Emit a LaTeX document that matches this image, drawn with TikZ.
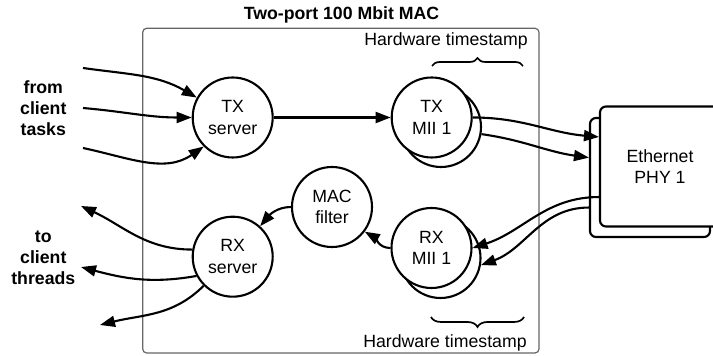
\documentclass[tikz,border=0pt]{standalone}
\usepackage{fontspec}
\setmainfont{Liberation Sans}
\usetikzlibrary{arrows.meta,decorations.pathreplacing,calc}

\begin{document}
\begin{tikzpicture}[x=1pt,y=1pt,
  every node/.style={font=\fontsize{17.7}{21.5}\selectfont},
  proc/.style={circle,draw,line width=2.1pt,fill=white,minimum size=80pt,inner sep=0pt,align=center},
  phybox/.style={rectangle,draw,line width=2.1pt,fill=white,rounded corners=6pt,
    minimum width=120pt,minimum height=120pt,inner sep=0pt,align=center},
  frame/.style={rectangle,draw=black!60,line width=1.2pt,rounded corners=4pt,inner sep=0pt},
  flow/.style={line width=2.1pt,-{Triangle[length=15pt,width=11pt]}},
  sidelbl/.style={align=center,font=\fontsize{17.7}{21}\selectfont\bfseries},
  brace/.style={line width=1.7pt,decorate,decoration={brace}},
]
\useasboundingbox (0,0) rectangle (713,356);
\clip (0,0) rectangle (713,356);

% enclosing MAC block and its title
\node[frame,minimum width=396.3pt,minimum height=324.7pt] (macblk) at (340.85,165.35) {};
\node[font=\fontsize{17.7}{21}\selectfont\bfseries] (title) at (341.5,341) {Two-port 100 Mbit MAC};

% hardware timestamp annotations
\node (hwtop) at (446,315) {Hardware timestamp};
\node (hwbot) at (445,13) {Hardware timestamp};
\coordinate (bt1) at (432,290);
\coordinate (bt2) at (523,290);
\coordinate (bb1) at (524,39);
\coordinate (bb2) at (431,39);
\draw[brace,decoration={amplitude=8pt}] (bt1) -- (bt2);
\draw[brace,decoration={amplitude=10pt}] (bb1) -- (bb2);

% PHY (stacked boxes)
\node[phybox,minimum height=119pt] (phyb) at (650,178.5) {};
\node[phybox] (phy) at (660,189.5) {Ethernet\\PHY 1};

% processes
\node[proc] (txs) at (232.7,238.5) {TX\\server};
\node[proc] (rxs) at (232.7,99.3) {RX\\server};
\node[proc] (mac) at (332,149) {MAC\\filter};
\node[proc] (txmb) at (441,229) {};
\node[proc] (txm) at (431.7,238.5) {TX\\MII 1};
\node[proc] (rxmb) at (440.5,98) {};
\node[proc] (rxm) at (431.5,108) {RX\\MII 1};

% client side labels
\node[sidelbl] (fromlbl) at (43.3,248) {from\\client\\tasks};
\node[sidelbl] (tolbl) at (43.3,98) {to\\client\\threads};

% free ends of the client connectors
\coordinate (in1) at (83,288);
\coordinate (in2) at (83,248);
\coordinate (in3) at (83,208);
\coordinate (out1) at (81,150);
\coordinate (out2) at (81,89);
\coordinate (out3) at (100,31);

% attachment points on the PHY boxes
\coordinate (phytx) at ($(phy.north west)!0.258!(phy.south west)$);
\coordinate (phyrx) at ($(phy.north west)!0.75!(phy.south west)$);
\coordinate (phybtx) at ($(phyb.north west)!0.336!(phyb.south west)$);
\coordinate (phybrx) at ($(phyb.north west)!0.748!(phyb.south west)$);

% transmit path
\draw[flow] (in1) to[out=-8,in=150] (txs.151);
\draw[flow] (in2) to[out=-5,in=180] (txs.180);
\draw[flow] (in3) to[out=-12,in=215] (txs.225);
\draw[flow] (txs.0) -- (txm.180);
\draw[flow] (txm.0) to[out=0,in=175] (phytx);
\draw[flow] (txmb.-10) to[out=-8,in=172] (phybtx);

% receive path
\draw[flow] (phyrx) to[out=180,in=18] (rxm.0);
\draw[flow] (phybrx) to[out=180,in=20] (rxmb.-10);
\draw[flow] (rxm.180) to[out=180,in=-30] (mac.-37);
\draw[flow] (mac.180) to[out=180,in=50] (rxs.48);
\draw[flow] (rxs.170) to[out=180,in=-25] (out1);
\draw[flow] (rxs.208) to[out=190,in=-15] (out2);
\draw[flow] (rxs.225) to[out=225,in=14] (out3);
\end{tikzpicture}
\end{document}
